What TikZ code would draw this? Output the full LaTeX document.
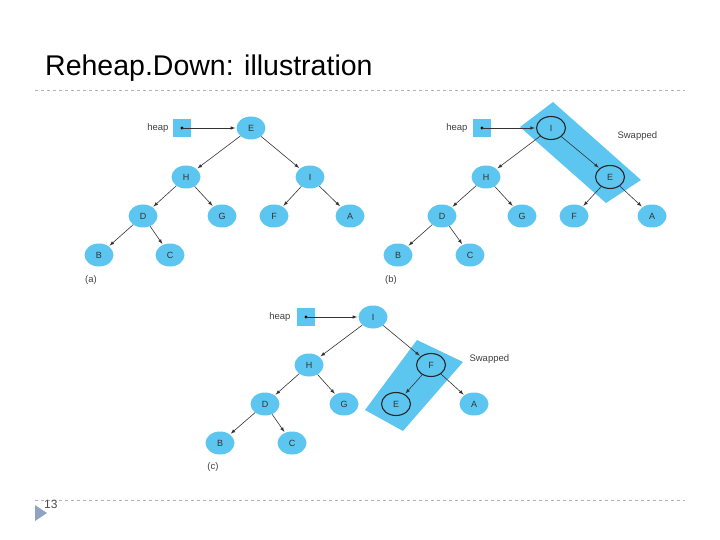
\documentclass[tikz,border=0pt]{standalone}
\usepackage{fontspec}
\setmainfont{Liberation Sans}
\usetikzlibrary{shapes.geometric}
\begin{document}
\begin{tikzpicture}[x=1pt,y=-1pt,
  hn/.style={ellipse,fill=hb,minimum width=29pt,minimum height=23pt,inner sep=0pt,font=\fontsize{9}{10}\selectfont,text=black!80},
  hs/.style={hn,draw=black!85,line width=1.1pt},
  hbox/.style={fill=hb,minimum size=18pt,inner sep=0pt},
  ed/.style={-latex,black!80,line width=0.6pt,shorten >=1pt},
  lbl/.style={font=\fontsize{9.5}{10}\selectfont,text=black!75},
  dl/.style={gray!60,dashed,line width=0.6pt}]
\definecolor{hb}{HTML}{5CC6F0}
\definecolor{tri}{HTML}{8FA4C0}
\useasboundingbox (0,0) rectangle (720,540);
\node[anchor=west,font=\fontsize{28.5}{32}\selectfont,inner sep=0pt] (title) at (45,68) {Reheap.Down: illustration};
\draw[dl] (35,90) -- (685,90);
\draw[dl] (35,500) -- (685,500);
\fill[tri] (35,505) -- (47,513) -- (35,521) -- cycle;
\node[anchor=west,font=\fontsize{12}{14}\selectfont,text=black!70,inner sep=0pt] (pg) at (44,504) {13};
% (a)
\node[hbox] (ha) at (182,128) {};
\node[lbl,anchor=east] at (172,128) {heap};
\node[hn] (aE) at (251,128) {E};
\node[hn] (aH) at (186,177) {H};
\node[hn] (aI) at (310,177) {I};
\node[hn] (aD) at (143,216) {D};
\node[hn] (aG) at (222,216) {G};
\node[hn] (aF) at (274,216) {F};
\node[hn] (aA) at (350,216) {A};
\node[hn] (aB) at (99,255) {B};
\node[hn] (aC) at (170,255) {C};
\node[lbl] at (91,280) {(a)};
\fill (ha.center) circle (1.6pt);
\draw[ed] (ha.center) -- (aE);
\foreach \a/\b in {aE/aH,aE/aI,aH/aD,aH/aG,aI/aF,aI/aA,aD/aB,aD/aC} \draw[ed] (\a) -- (\b);
% (b)
\fill[hb] (520,127) -- (553,102) -- (641,180) -- (606,203) -- cycle;
\node[hbox] (hbx) at (482,128) {};
\node[lbl,anchor=east] at (471,128) {heap};
\node[hs] (bI) at (551,128) {I};
\node[hn] (bH) at (486,177) {H};
\node[hs] (bE) at (610,177) {E};
\node[hn] (bD) at (442,216) {D};
\node[hn] (bG) at (522,216) {G};
\node[hn] (bF) at (574,216) {F};
\node[hn] (bA) at (652,216) {A};
\node[hn] (bB) at (398,255) {B};
\node[hn] (bC) at (470,255) {C};
\node[lbl] at (391,280) {(b)};
\node[lbl,anchor=west] at (614,136) {Swapped};
\fill (hbx.center) circle (1.6pt);
\draw[ed] (hbx.center) -- (bI);
\foreach \a/\b in {bI/bH,bI/bE,bH/bD,bH/bG,bE/bF,bE/bA,bD/bB,bD/bC} \draw[ed] (\a) -- (\b);
% (c)
\fill[hb] (417,340) -- (463,362) -- (403,431) -- (365,410) -- cycle;
\node[hbox] (hc) at (306,317) {};
\node[lbl,anchor=east] at (294,317) {heap};
\node[hn] (cI) at (373,317) {I};
\node[hn] (cH) at (309,365) {H};
\node[hs] (cF) at (431,365) {F};
\node[hn] (cD) at (265,404) {D};
\node[hn] (cG) at (344,404) {G};
\node[hs] (cE) at (396,404) {E};
\node[hn] (cA) at (474,404) {A};
\node[hn] (cB) at (220,443) {B};
\node[hn] (cC) at (292,443) {C};
\node[lbl] at (213,467) {(c)};
\node[lbl,anchor=west] at (466,359) {Swapped};
\fill (hc.center) circle (1.6pt);
\draw[ed] (hc.center) -- (cI);
\foreach \a/\b in {cI/cH,cI/cF,cH/cD,cH/cG,cF/cE,cF/cA,cD/cB,cD/cC} \draw[ed] (\a) -- (\b);
\end{tikzpicture}
\end{document}
